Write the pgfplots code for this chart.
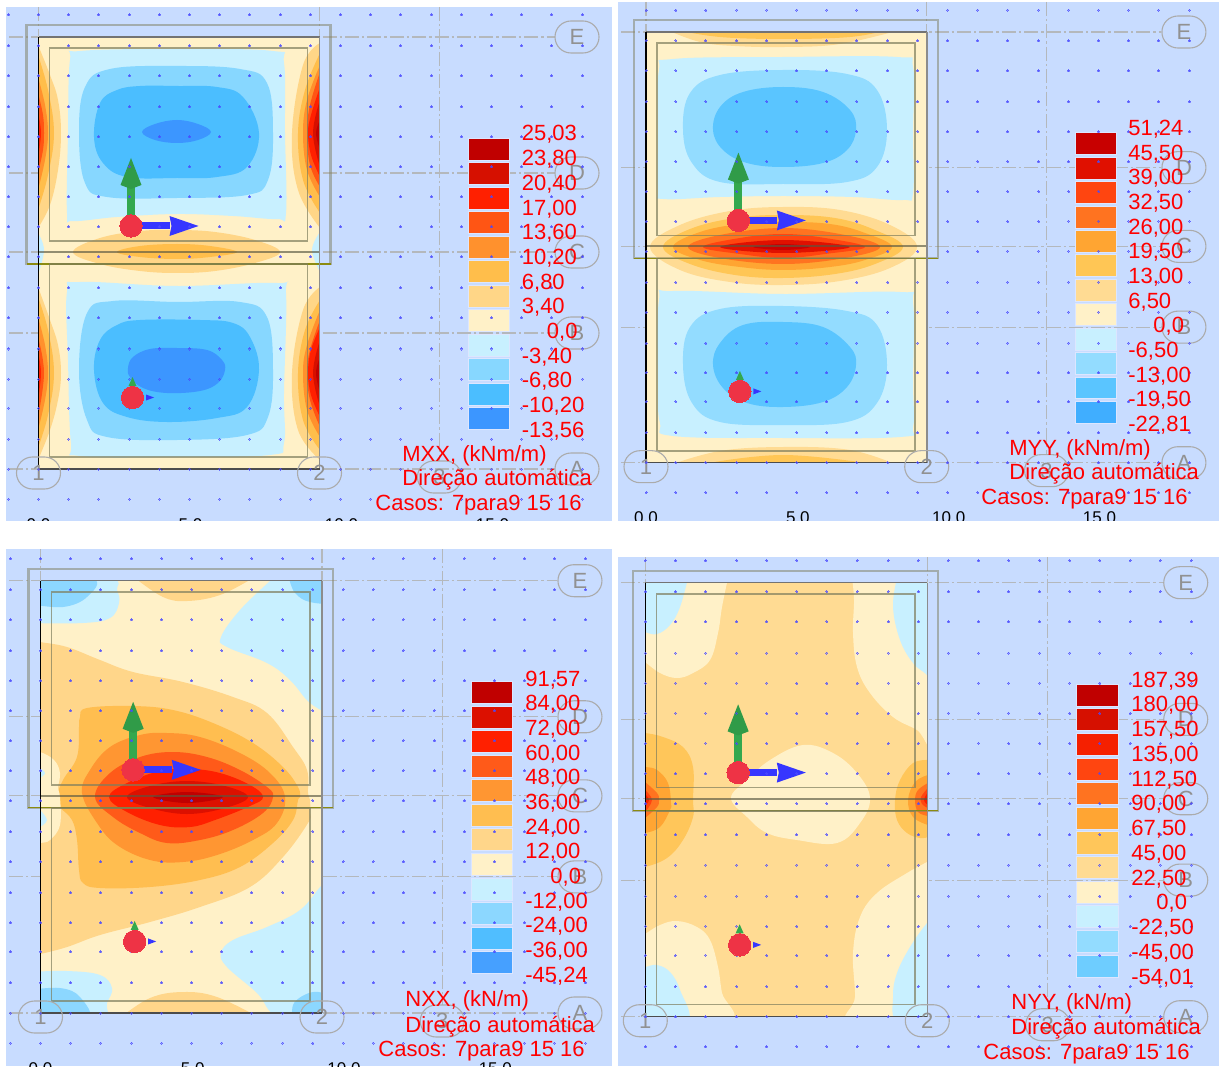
\documentclass[border=0pt]{standalone}
\usepackage{fontspec}
\setmainfont{Liberation Sans}
\usepackage{pgfplots}
\usepackage{pgfplotstable}
\pgfplotsset{compat=1.18}
\usetikzlibrary{shapes.misc}
\definecolor{bgc}{HTML}{C8DCFF}
\definecolor{Cr}{HTML}{FFF1C8}
\definecolor{dashc}{HTML}{B4B8BC}
\definecolor{wallc}{HTML}{7E7E5E}
\definecolor{wallb}{HTML}{8B8B10}
\definecolor{dotc}{HTML}{4A4AFF}
\definecolor{ballc}{HTML}{EE3345}
\definecolor{grn}{HTML}{34A84E}
\definecolor{blu}{HTML}{3636FF}
\definecolor{bubc}{HTML}{ABABAB}
\definecolor{legb}{HTML}{DCE6FF}
\newcommand\palP[7]{\definecolor{Pa}{HTML}{#1}\definecolor{Pb}{HTML}{#2}\definecolor{Pc}{HTML}{#3}\definecolor{Pd}{HTML}{#4}\definecolor{Pe}{HTML}{#5}\definecolor{Pf}{HTML}{#6}\definecolor{Pg}{HTML}{#7}}
\newcommand\palN[4]{\definecolor{Na}{HTML}{#1}\definecolor{Nb}{HTML}{#2}\definecolor{Nc}{HTML}{#3}\definecolor{Nd}{HTML}{#4}}
\newcommand\legdefault{\colorlet{La}{Pg}\colorlet{Lb}{Pf}\colorlet{Lc}{Pe}\colorlet{Ld}{Pd}\colorlet{Le}{Pc}\colorlet{Lf}{Pb}\colorlet{Lg}{Pa}\colorlet{Lh}{Cr}\colorlet{Li}{Na}\colorlet{Lj}{Nb}\colorlet{Lk}{Nc}\colorlet{Ll}{Nd}}
\pgfplotstableread[row sep=\\]{x y\\
0 -22\\30 -22\\60 -22\\91 -22\\121 -22\\151 -22\\181 -22\\211 -22\\242 -22\\272 -22\\302 -22\\332 -22\\362 -22\\393 -22\\423 -22\\453 -22\\483 -22\\513 -22\\544 -22\\
0 9\\30 9\\60 9\\91 9\\121 9\\151 9\\181 9\\211 9\\242 9\\272 9\\302 9\\332 9\\362 9\\393 9\\423 9\\453 9\\483 9\\513 9\\544 9\\
0 39\\30 39\\60 39\\91 39\\121 39\\151 39\\181 39\\211 39\\242 39\\272 39\\302 39\\332 39\\362 39\\393 39\\423 39\\453 39\\483 39\\513 39\\544 39\\
0 70\\30 70\\60 70\\91 70\\121 70\\151 70\\181 70\\211 70\\242 70\\272 70\\302 70\\332 70\\362 70\\393 70\\423 70\\453 70\\483 70\\513 70\\544 70\\
0 100\\30 100\\60 100\\91 100\\121 100\\151 100\\181 100\\211 100\\242 100\\272 100\\302 100\\332 100\\362 100\\393 100\\423 100\\453 100\\483 100\\513 100\\544 100\\
0 130\\30 130\\60 130\\91 130\\121 130\\151 130\\181 130\\211 130\\242 130\\272 130\\302 130\\332 130\\362 130\\393 130\\423 130\\453 130\\483 130\\513 130\\544 130\\
0 160\\30 160\\60 160\\91 160\\121 160\\151 160\\181 160\\211 160\\242 160\\272 160\\302 160\\332 160\\362 160\\393 160\\423 160\\453 160\\483 160\\513 160\\544 160\\
0 190\\30 190\\60 190\\91 190\\121 190\\151 190\\181 190\\211 190\\242 190\\272 190\\302 190\\332 190\\362 190\\393 190\\423 190\\453 190\\483 190\\513 190\\544 190\\
0 220\\30 220\\60 220\\91 220\\121 220\\151 220\\181 220\\211 220\\242 220\\272 220\\302 220\\332 220\\362 220\\393 220\\423 220\\453 220\\483 220\\513 220\\544 220\\
0 251\\30 251\\60 251\\91 251\\121 251\\151 251\\181 251\\211 251\\242 251\\272 251\\302 251\\332 251\\362 251\\393 251\\423 251\\453 251\\483 251\\513 251\\544 251\\
0 281\\30 281\\60 281\\91 281\\121 281\\151 281\\181 281\\211 281\\242 281\\272 281\\302 281\\332 281\\362 281\\393 281\\423 281\\453 281\\483 281\\513 281\\544 281\\
0 312\\30 312\\60 312\\91 312\\121 312\\151 312\\181 312\\211 312\\242 312\\272 312\\302 312\\332 312\\362 312\\393 312\\423 312\\453 312\\483 312\\513 312\\544 312\\
0 342\\30 342\\60 342\\91 342\\121 342\\151 342\\181 342\\211 342\\242 342\\272 342\\302 342\\332 342\\362 342\\393 342\\423 342\\453 342\\483 342\\513 342\\544 342\\
0 371\\30 371\\60 371\\91 371\\121 371\\151 371\\181 371\\211 371\\242 371\\272 371\\302 371\\332 371\\362 371\\393 371\\423 371\\453 371\\483 371\\513 371\\544 371\\
0 402\\30 402\\60 402\\91 402\\121 402\\151 402\\181 402\\211 402\\242 402\\272 402\\302 402\\332 402\\362 402\\393 402\\423 402\\453 402\\483 402\\513 402\\544 402\\
0 432\\30 432\\60 432\\91 432\\121 432\\151 432\\181 432\\211 432\\242 432\\272 432\\302 432\\332 432\\362 432\\393 432\\423 432\\453 432\\483 432\\513 432\\544 432\\
0 462\\30 462\\60 462\\91 462\\121 462\\151 462\\181 462\\211 462\\242 462\\272 462\\302 462\\332 462\\362 462\\393 462\\423 462\\453 462\\483 462\\513 462\\544 462\\
}\dotgrid
\pgfplotsset{
 localax/.style={scale only axis,hide axis,clip=false,y dir=reverse,anchor=south west,
   xmin=0,xmax=281,ymin=0,ymax=432},
 griddots/.style={only marks,mark=*,mark size=0.5pt,mark options={draw=dotc,fill=dotc,line width=0pt,opacity=0.5}},
}
% contour helpers
\newcommand\C[2]{\addplot[fill=#1,draw=none,smooth,tension=0.65] coordinates {#2};}
\newcommand\CC[2]{\addplot[fill=#1,draw=none,smooth cycle,tension=0.65] coordinates {#2};}
\newcommand\base[1]{\addplot[fill=#1,draw=none] coordinates {(0,0)(2000,0)(2000,2000)(0,2000)} --cycle;}
\newcommand\R[3]{\addplot[fill=#3,draw=legb,line width=0.4pt] coordinates {(430,#1)(471,#1)(471,#2)(430,#2)} --cycle;}
\newcommand\poly[2]{\addplot[fill=#1,draw=none] coordinates {#2} --cycle;}
\newcommand\rect[5]{\addplot[#5] coordinates {(#1,#2)(#3,#2)(#3,#4)(#1,#4)} --cycle;}
\newcommand\hl[4]{\addplot[#4] coordinates {(#1,#3)(#2,#3)};}
\newcommand\vl[4]{\addplot[#4] coordinates {(#3,#1)(#3,#2)};}
\tikzset{bub/.style={draw=bubc,line width=0.55pt,rounded rectangle,minimum width=22pt,minimum height=16pt,inner sep=0pt,text=bubc!85!black,font=\fontsize{11}{12}\selectfont},
 dashl/.style={dashc,line width=0.55pt,dash pattern=on 7pt off 1.5pt on 1.2pt off 1.5pt},
 tk/.style={anchor=base,inner sep=0pt,font=\fontsize{8.5}{10}\selectfont,text=black},
 lab/.style={anchor=base west,inner sep=0pt,text=red,font=\fontsize{11}{12}\selectfont}}
\newif\ifleftcol
\newif\iftkl
\newcommand\setpanel[8]{\def\sL{#1}\def\sT{#2}\def\sR{#3}\def\sB{#4}%
 \pgfmathsetmacro\xl{(#5-#1)/(#3-#1)*281}\pgfmathsetmacro\xr{(#7-#1)/(#3-#1)*281}%
 \pgfmathsetmacro\yt{(#6-#2)/(#4-#2)*432}\pgfmathsetmacro\yb{(#8-#2)/(#4-#2)*432}%
 \pgfmathsetmacro\Wd{(#3-#1)*0.5}\pgfmathsetmacro\Ht{(#4-#2)*0.5}%
 \pgfmathsetmacro\Ax{#1*0.5}\pgfmathsetmacro\Ay{(1066-#4)*0.5}%
 \pgfmathsetmacro\xls{\xl+3}}
\newcommand\arrowset{%
 % large axes
 \poly{grn}{(88.5,189)(88.5,148)(96.5,148)(96.5,189)}
 \poly{grn!92!black}{(82,148)(92.5,121)(103,148)(92.5,152)}
 \poly{blu}{(92.5,185.5)(131,185.5)(131,192.5)(92.5,192.5)}
 \poly{blu}{(131,179)(160,189)(131,199)(133,189)}
 \addplot[only marks,mark=*,mark size=5.6pt,mark options={draw=ballc,fill=ballc,line width=0pt}] coordinates {(92.5,189)};
 % small axes
 \poly{grn}{(94,340)(90,349)(98,349)}
 \poly{blu}{(107.5,357.5)(115.5,360.5)(107.5,363.5)}
 \addplot[only marks,mark=*,mark size=5.6pt,mark options={draw=ballc,fill=ballc,line width=0pt}] coordinates {(94,360.5)};
}
\newcommand\panel[1]{%
 \begin{axis}[localax,at={(\Ax pt,\Ay pt)},width=\Wd pt,height=\Ht pt]
  \addplot[fill=bgc,draw=none] coordinates {(\xl,\yt)(\xr,\yt)(\xr,\yb)(\xl,\yb)} --cycle;
  \hl{\xls}{516}{0}{dashl}\hl{\xls}{516}{136}{dashl}\hl{\xls}{516}{215}{dashl}\hl{\xls}{516}{296}{dashl}\hl{\xls}{516}{432}{dashl}
  \vl{\yt}{424}{0}{dashl}\vl{\yt}{424}{281}{dashl}\vl{\yt}{424}{401}{dashl}
 \end{axis}
 \begin{axis}[scale only axis,hide axis,y dir=reverse,anchor=south west,at={(\Ax pt,\Ay pt)},width=\Wd pt,height=\Ht pt,
   xmin=\sL,xmax=\sR,ymin=\sT,ymax=\sB]
  #1
 \end{axis}
 \begin{axis}[localax,at={(\Ax pt,\Ay pt)},width=\Wd pt,height=\Ht pt]
  % walls
  \rect{-12}{-12}{292}{227}{draw=wallc,line width=1.1pt,opacity=0.5}
  \hl{-12}{292}{227}{draw=wallb,line width=0.6pt}
  \rect{11}{11}{269}{204}{draw=wallc,line width=0.8pt,opacity=0.7}
  \rect{11}{227}{269}{420}{draw=wallc,line width=0.8pt,opacity=0.7}
  \hl{0}{281}{215}{draw=wallc!70!black,line width=0.9pt,opacity=0.65}
  % slab outline
  \hl{0}{281}{0}{draw=black!55,line width=0.6pt}
  \vl{0}{432}{281}{draw=black!45,line width=0.8pt}
  \hl{0}{281}{432}{draw=black!70,line width=0.6pt}
  \vl{0}{432}{0}{draw=black,line width=0.6pt}
  % bubbles
  \node[bub] at (axis cs:0,436) {1};
  \node[bub] at (axis cs:281,436) {2};
  \node[bub] at (axis cs:401,440) {3};
  \node[bub] at (axis cs:538.5,432) {A};
  \node[bub] at (axis cs:538.5,296) {B};
  \node[bub] at (axis cs:538.5,215) {C};
  \node[bub] at (axis cs:538.5,136) {D};
  \node[bub] at (axis cs:538.5,0) {E};
  % legend bars
  \R{101}{123}{La}\R{125.5}{147.5}{Lb}\R{150}{172}{Lc}\R{174.5}{196.5}{Ld}
  \R{199}{221}{Le}\R{223.5}{245.5}{Lf}\R{248}{270}{Lg}\R{272.5}{294.5}{Lh}
  \R{297}{319}{Li}\R{321.5}{343.5}{Lj}\R{346}{368}{Lk}\R{370.5}{392.5}{Ll}
  % grid dots
  \addplot[griddots] table {\dotgrid};
  \ifleftcol
  \addplot[griddots] coordinates {(-30,-22)(-30,9)(-30,39)(-30,70)(-30,100)(-30,130)(-30,160)(-30,190)(-30,220)(-30,251)(-30,281)(-30,312)(-30,342)(-30,371)(-30,402)(-30,432)(-30,462)};
  \fi
  \arrowset
  % cut-off coordinate labels
  \iftkl
  \node[tk] at (axis cs:0,493) {0,0};
  \node[tk] at (axis cs:152,493) {5,0};
  \node[tk] at (axis cs:303,493) {10,0};
  \node[tk] at (axis cs:454,493) {15,0};
  \fi
 \end{axis}
}
% legend text in reference pixels
\newcommand\legtext[5]{% xleft, first base, pitch, index of zero label, list
 \foreach \t [count=\i from 1] in {#5}{%
  \pgfmathsetmacro\yy{(1066-(#2+1+(\i-1)*#3))*0.5}%
  \ifnum\i=#4 \pgfmathsetmacro\xx{(#1+25)*0.5}\else\pgfmathsetmacro\xx{#1*0.5}\fi
  \node[lab] at (\xx pt,\yy pt) {\t};
 }}
\newcommand\ttl[3]{\node[lab] at ({#1*0.5pt},{(1066-#2-1)*0.5pt}) {#3};\relax}
\begin{document}
\begin{tikzpicture}
\path[use as bounding box] (0,0) rectangle (609.5pt,533pt);
%%%%%%%%%%%%%%% PANEL 1 MXX
\leftcoltrue\tkltrue
\palP{FFD687}{FFBE4B}{FF912D}{FF5514}{FF2000}{D61000}{C00000}
\palN{C8F0FF}{87D7FF}{4BBEFF}{3C96FF}
\legdefault
\setpanel{38.5}{37}{319.5}{469}{6}{7}{612}{521}
\panel{
 \base{Cr}
 \CC{Na}{(80,51)(177,49)(273,51)(284,63)(285,133)(286,213)(277,219)(233,216)(177,214)(117,217)(73,221)(67,213)(68,133)(70,60)}
 \CC{Nb}{(110,69)(177,66)(240,69)(267,83)(273,133)(268,180)(247,195)(177,198)(107,197)(85,183)(79,133)(85,87)}
 \CC{Nc}{(140,86)(177,86)(217,87)(243,97)(259,133)(247,167)(217,177)(177,178)(127,177)(103,163)(94,137)(100,103)(117,90)}
 \CC{Nd}{(142,132)(155,124)(177,120)(198,124)(211,132)(198,140)(177,143)(155,140)}
 \C{Pa}{(38,45)(50,75)(58,100)(61,133)(58,170)(50,205)(38,228)}
 \C{Pb}{(38,55)(48,90)(54,133)(48,175)(38,210)}
 \C{Pc}{(38,77)(45,105)(48,133)(45,160)(38,190)}
 \C{Pd}{(38,93)(43,115)(44,133)(43,150)(38,173)}
 \C{Pe}{(38,113)(41,133)(38,157)}
 \C{Pa}{(320,43)(303,65)(292,133)(298,190)(320,228)}
 \C{Pb}{(320,53)(305,90)(298,133)(303,180)(320,213)}
 \C{Pc}{(320,65)(307,100)(303,133)(307,170)(320,197)}
 \C{Pd}{(320,72)(310,105)(307,133)(310,165)(320,187)}
 \C{Pe}{(320,87)(311,115)(308,133)(311,155)(320,177)}
 \C{Pf}{(320,100)(313,133)(320,167)}
 \C{Pg}{(320,120)(316,133)(320,150)}
 \CC{Pa}{(73,252)(100,238)(140,231)(177,230)(215,232)(255,240)(280,252)(255,263)(215,271)(177,273)(140,271)(100,264)}
 \CC{Pb}{(117,252)(140,246)(177,244)(210,246)(237,252)(210,257)(177,259)(140,257)}
 \C{Na}{(38,233)(44,250)(38,275)}
 \C{Na}{(320,232)(312,250)(320,272)}
 \CC{Na}{(80,282)(177,286)(277,283)(286,293)(284,393)(284,443)(270,455)(177,457)(80,456)(71,443)(68,360)(67,292)}
 \CC{Nb}{(113,301)(177,302)(240,302)(267,317)(273,370)(268,417)(247,435)(177,440)(107,437)(87,420)(79,370)(87,313)}
 \CC{Nc}{(140,320)(200,320)(233,323)(250,337)(259,370)(247,407)(217,418)(167,422)(127,417)(103,403)(94,370)(100,340)(117,325)}
 \CC{Nd}{(150,349)(177,348)(207,350)(222,360)(225,370)(218,383)(200,391)(167,393)(143,388)(130,377)(128,368)(133,357)}
 \C{Pa}{(38,287)(50,320)(58,345)(61,373)(58,400)(50,430)(38,460)}
 \C{Pb}{(38,297)(48,330)(54,373)(48,415)(38,448)}
 \C{Pc}{(38,317)(45,345)(48,373)(45,400)(38,430)}
 \C{Pd}{(38,337)(44,373)(38,417)}
 \C{Pe}{(38,353)(41,373)(38,400)}
 \C{Pa}{(320,287)(303,310)(292,373)(298,430)(320,460)}
 \C{Pb}{(320,300)(305,330)(298,373)(303,420)(320,450)}
 \C{Pc}{(320,310)(307,345)(303,373)(307,410)(320,437)}
 \C{Pd}{(320,320)(310,350)(307,373)(310,400)(320,427)}
 \C{Pe}{(320,327)(311,350)(308,373)(311,395)(320,417)}
 \C{Pf}{(320,340)(313,373)(320,407)}
 \C{Pg}{(320,357)(316,373)(320,393)}
}
\legtext{521.5}{140}{24.67}{9}{{25,03},{23,80},{20,40},{17,00},{13,60},{10,20},{6,80},{3,40},{0,0},{-3,40},{-6,80},{-10,20},{-13,56}}
\ttl{402}{461}{MXX, (kNm/m)}
\ttl{402}{485}{Direção automática}
\ttl{375}{510}{Casos: 7para9 15 16}
%%%%%%%%%%%%%%% PANEL 2 MYY
\leftcolfalse
\palP{FFDB93}{FFC655}{FFA532}{FF7320}{FF4510}{E01000}{C80000}
\palN{C8F0FF}{93DCFF}{5AC5FF}{40AEFF}
\legdefault
\setpanel{646}{32}{926.7}{462.7}{618}{2}{1219}{521}
\panel{
 \base{Cr}
 \C{Pa}{(667,30)(700,42)(735,46)(785,47)(840,44)(900,30)}
 \C{Pb}{(677,30)(720,37)(783,39)(850,37)(887,30)}
 \CC{Na}{(673,59)(783,57)(897,57)(913,67)(913,133)(913,193)(903,200)(853,197)(783,196)(720,197)(663,199)(658,190)(658,133)(659,70)}
 \CC{Nb}{(720,75)(783,70)(847,74)(877,90)(887,130)(877,167)(847,182)(783,184)(720,182)(692,163)(683,130)(690,93)}
 \CC{Nc}{(743,92)(783,87)(823,92)(850,110)(856,130)(847,150)(823,163)(783,167)(747,163)(723,150)(713,130)(720,107)}
 \CC{Na}{(673,291)(783,294)(900,292)(913,303)(913,383)(913,427)(900,437)(783,438)(673,436)(660,423)(658,383)(659,300)}
 \CC{Nb}{(720,309)(783,306)(847,311)(877,325)(887,365)(877,403)(847,422)(783,425)(720,422)(692,403)(683,365)(690,327)}
 \CC{Nc}{(743,325)(783,322)(823,327)(850,347)(856,365)(847,387)(823,402)(783,407)(747,403)(723,388)(713,365)(720,343)}
 \CC{Pa}{(650,247)(680,225)(730,211)(783,207)(840,210)(890,225)(917,247)(890,268)(840,281)(783,285)(730,282)(680,270)}
 \CC{Pb}{(663,247)(690,229)(735,218)(783,215)(835,218)(875,230)(903,247)(875,264)(835,274)(783,278)(735,275)(690,264)}
 \CC{Pc}{(673,247)(700,232)(740,224)(783,222)(830,224)(865,233)(892,247)(865,260)(830,267)(783,270)(740,267)(700,260)}
 \CC{Pd}{(688,247)(720,235)(783,228)(845,235)(880,247)(845,258)(783,264)(720,258)}
 \CC{Pe}{(703,247)(740,238)(783,234)(825,238)(865,247)(825,254)(783,258)(740,254)}
 \CC{Pf}{(720,247)(783,240)(850,247)(783,253)}
 \CC{Pg}{(753,247)(783,244)(810,247)(783,250)}
 \C{Pa}{(670,465)(720,451)(783,447)(850,450)(897,465)}
 \C{Pb}{(697,465)(783,455)(880,465)}
}
\legtext{1128}{134.5}{24.67}{9}{{51,24},{45,50},{39,00},{32,50},{26,00},{19,50},{13,00},{6,50},{0,0},{-6,50},{-13,00},{-19,50},{-22,81}}
\ttl{1009}{455}{MYY, (kNm/m)}
\ttl{1009}{479}{Direção automática}
\ttl{981}{504}{Casos: 7para9 15 16}
%%%%%%%%%%%%%%% PANEL 3 NXX
\leftcoltrue
\palP{FFD68A}{FFBE50}{FF9632}{FF5A19}{FF2000}{DC1000}{C00000}
\palN{C8F0FF}{8CD7FF}{50BEFF}{46A0FF}
\legdefault
\setpanel{40.5}{580.7}{322}{1013}{6}{549}{612}{1066}
\panel{
 \base{Cr}
 \C{Na}{(30,623)(83,623)(110,618)(119,603)(117,590)(110,578)(30,570)}
 \C{Nb}{(30,604)(63,607)(87,597)(93,578)(30,570)}
 \C{Na}{(270,581)(240,610)(221,637)(227,647)(267,663)(290,680)(310,703)(330,712)(340,700)(340,570)(273,572)}
 \C{Nb}{(289,578)(295,593)(310,602)(330,600)(340,570)}
 \C{Pa}{(135,578)(163,597)(187,601)(220,595)(253,578)}
 \C{Pa}{(30,640)(40,642)(67,647)(100,660)(133,672)(183,682)(233,697)(267,713)(293,747)(307,770)(308,793)(310,800)(310,813)(308,823)(283,857)(250,887)(200,907)(150,922)(100,935)(67,947)(40,954)(30,955)}
 \CC{Pb}{(80,717)(87,708)(133,706)(173,710)(213,723)(253,743)(283,767)(298,787)(300,797)(298,800)(293,820)(273,843)(240,867)(200,880)(150,887)(100,888)(83,883)(79,870)(77,840)(72,820)(60,807)(57,797)(63,780)(77,757)(79,727)}
 \CC{Pc}{(82,793)(90,770)(110,747)(140,735)(167,733)(200,737)(240,753)(270,773)(285,797)(277,823)(253,840)(217,855)(183,862)(150,860)(117,845)(97,823)}
 \CC{Pd}{(95,797)(110,773)(140,757)(173,752)(207,757)(240,770)(267,787)(273,797)(263,813)(233,830)(200,840)(167,843)(140,833)(113,817)}
 \CC{Pe}{(109,797)(127,783)(160,771)(190,769)(220,773)(250,785)(263,797)(250,806)(215,820)(190,827)(160,825)(127,812)}
 \CC{Pf}{(127,797)(150,786)(187,781)(225,786)(248,797)(225,808)(187,814)(150,808)}
 \CC{Pg}{(153,797)(187,792)(223,797)(187,803)}
 \C{Cr}{(30,752)(40,752)(54,760)(60,773)(58,788)(60,797)(60,825)(50,840)(40,843)(30,845)}
 \C{Na}{(40,810)(47,820)(40,827)}
 \C{Na}{(40,768)(45,773)(40,778)}
 \C{Na}{(30,972)(67,971)(100,975)(112,988)(107,1003)(100,1020)(30,1025)}
 \C{Nb}{(30,990)(60,988)(80,997)(87,1020)(30,1025)}
 \C{Pa}{(120,1018)(150,998)(183,992)(217,997)(260,1018)}
 \C{Pb}{(183,1014)(197,1012)(210,1014)}
 \C{Na}{(340,870)(322,885)(300,910)(267,927)(233,940)(221,953)(227,967)(257,993)(280,1018)(340,1025)}
 \C{Nb}{(293,1020)(294,1003)(313,992)(330,998)(340,1020)}
}
\legtext{525}{685}{24.67}{9}{{91,57},{84,00},{72,00},{60,00},{48,00},{36,00},{24,00},{12,00},{0,0},{-12,00},{-24,00},{-36,00},{-45,24}}
\ttl{405}{1005}{NXX, (kN/m)}
\ttl{405}{1031}{Direção automática}
\ttl{378}{1055}{Casos: 7para9 15 16}
%%%%%%%%%%%%%%% PANEL 4 NYY
\leftcolfalse\tklfalse
\palP{FFDB93}{FFC65A}{FFA533}{FF7320}{FF4510}{F52000}{D61000}
\palN{C8F0FF}{93DCFF}{6ECDFF}{6ECDFF}
\definecolor{La}{HTML}{C00000}\colorlet{Lb}{Pg}\colorlet{Lc}{Pf}\colorlet{Ld}{Pe}\colorlet{Le}{Pd}\colorlet{Lf}{Pc}\colorlet{Lg}{Pb}\colorlet{Lh}{Pa}\colorlet{Li}{Cr}\colorlet{Lj}{Na}\colorlet{Lk}{Nb}\colorlet{Ll}{Nc}
\setpanel{645.3}{582.7}{927.3}{1016.7}{618}{557}{1219}{1066}
\panel{
 \base{Pa}
 \C{Cr}{(728,578)(722,607)(718,633)(710,660)(693,673)(677,678)(660,673)(645,662)(635,655)(635,575)}
 \C{Na}{(688,578)(680,607)(670,625)(657,634)(645,632)(635,628)(635,575)}
 \C{Cr}{(852,578)(854,600)(853,633)(857,667)(870,693)(893,717)(917,730)(940,745)(940,575)}
 \C{Na}{(897,578)(893,607)(900,640)(913,663)(927,675)(940,690)(940,575)}
 \CC{Cr}{(731,798)(747,780)(770,760)(803,745)(833,753)(857,773)(870,798)(860,823)(837,843)(797,840)(767,833)(747,817)}
 \C{Pb}{(635,733)(645,733)(663,737)(683,747)(693,767)(693,800)(693,817)(683,840)(667,858)(645,867)(635,867)}
 \C{Pc}{(635,767)(645,767)(657,770)(668,783)(671,803)(670,810)(660,827)(645,833)(635,833)}
 \C{Pd}{(645,782)(657,793)(659,800)(657,807)(645,818)}
 \C{Pe}{(645,790)(652,800)(645,812)}
 \C{Pf}{(645,794)(649,800)(645,806)}
 \C{Pb}{(928,760)(913,763)(900,780)(895,800)(897,820)(907,833)(920,838)(928,837)}
 \C{Pc}{(928,775)(915,782)(908,800)(913,817)(928,825)}
 \C{Pd}{(928,783)(918,790)(915,800)(918,812)(928,816)}
 \C{Pe}{(928,788)(921,797)(922,804)(928,808)}
 \C{Pf}{(928,792)(924,800)(928,805)}
 \C{Cr}{(635,940)(645,934)(660,925)(677,921)(697,927)(710,940)(718,967)(722,993)(729,1022)(635,1025)}
 \C{Na}{(635,968)(645,967)(657,965)(670,972)(680,990)(687,1022)(635,1025)}
 \C{Cr}{(940,855)(927,862)(907,873)(877,893)(860,917)(853,953)(855,997)(851,1022)(940,1025)}
 \C{Na}{(940,910)(927,923)(910,947)(897,973)(893,997)(898,1022)(940,1025)}
}
\legtext{1131}{686}{24.75}{10}{{187,39},{180,00},{157,50},{135,00},{112,50},{90,00},{67,50},{45,00},{22,50},{0,0},{-22,50},{-45,00},{-54,01}}
\ttl{1011}{1008}{NYY, (kN/m)}
\ttl{1011}{1033}{Direção automática}
\ttl{983}{1058}{Casos: 7para9 15 16}
%%%%%%%%%%%%%%% white gaps
\fill[white] (0,{(1066-549)*0.5pt}) rectangle (609.5pt,{(1066-521)*0.5pt});
\fill[white] ({612*0.5pt},0) rectangle ({618*0.5pt},533pt);
\end{tikzpicture}
\end{document}
